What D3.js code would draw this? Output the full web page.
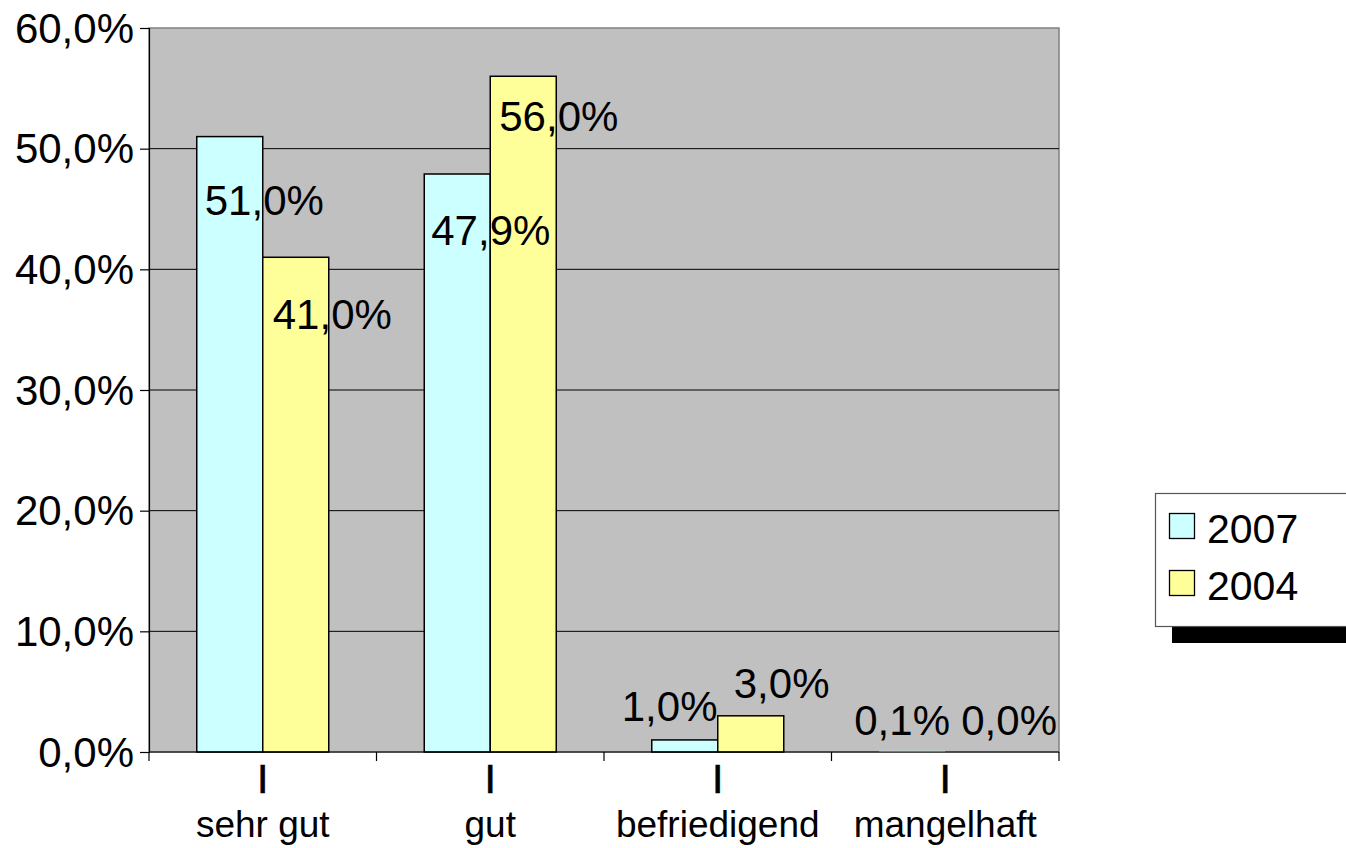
<!DOCTYPE html>
<html>
<head>
<meta charset="utf-8">
<script src="https://cdn.jsdelivr.net/npm/d3@7"></script>
<style>
  html, body { margin: 0; padding: 0; background: #ffffff; }
  svg { display: block; font-family: "Liberation Sans", Arial, sans-serif; }
</style>
</head>
<body>
<svg id="chart" width="1346" height="848"></svg>
<script>
// ---- data ----
const categories = ["sehr gut", "gut", "befriedigend", "mangelhaft"];
const seriesNames = ["2007", "2004"];
const values2007 = [51.0, 47.9, 1.0, 0.1];
const values2004 = [41.0, 56.0, 3.0, 0.0];
const valueLabels2007 = ["51,0%", "47,9%", "1,0%", "0,1%"];
const valueLabels2004 = ["41,0%", "56,0%", "3,0%", "0,0%"];
const yTicks = [0, 10, 20, 30, 40, 50, 60];
const yTickLabels = ["0,0%", "10,0%", "20,0%", "30,0%", "40,0%", "50,0%", "60,0%"];

// ---- label placement offsets (style, px, relative to bar left / bar top) ----
const labelDx2007 = [8, 7, -30, -25];
const labelDy2007 = [78, 71, -19, -16];
const labelDx2004 = [10, 9, 16, 16];
const labelDy2004 = [72, 55, -18, -17];

const colors = { "2007": "#CCFFFF", "2004": "#FFFF99" };

const plot = { left: 149, right: 1059, top: 28, bottom: 752 };
const svg = d3.select("#chart");

const x0 = d3.scaleBand().domain(categories).range([plot.left, plot.right]).padding(0);
const bw = x0.bandwidth();
const barW = 66;
const x1 = d3.scaleBand().domain(seriesNames).range([bw / 2 - barW, bw / 2 + barW]).padding(0);
const y = d3.scaleLinear().domain([0, 60]).range([plot.bottom, plot.top]);

// plot background
svg.append("rect")
  .attr("x", plot.left).attr("y", plot.top)
  .attr("width", plot.right - plot.left).attr("height", plot.bottom - plot.top)
  .attr("fill", "#C0C0C0").attr("stroke", "#808080").attr("stroke-width", 1.5);

// gridlines
svg.append("g").selectAll("line").data(yTicks.filter(t => t > 0 && t < 60)).join("line")
  .attr("x1", plot.left).attr("x2", plot.right)
  .attr("y1", d => y(d)).attr("y2", d => y(d))
  .attr("stroke", "#000").attr("stroke-width", 1);

// y axis
const yAxis = d3.axisLeft(y).tickValues(yTicks).tickSize(9).tickPadding(7)
  .tickFormat((d, i) => yTickLabels[i]);
const gy = svg.append("g").attr("transform", `translate(${plot.left},0)`).call(yAxis);
gy.select(".domain").attr("stroke", "#000").attr("stroke-width", 1.2);
gy.selectAll(".tick line").attr("stroke", "#000").attr("stroke-width", 1.2);
gy.selectAll(".tick text").attr("font-size", 42).attr("fill", "#000")
  .attr("font-family", "Liberation Sans, Arial, sans-serif")
  .attr("dy", null).attr("dominant-baseline", null).attr("y", 14).attr("x", -15);

// bars
const series = [
  { name: "2007", values: values2007, labels: valueLabels2007, dx: labelDx2007, dy: labelDy2007 },
  { name: "2004", values: values2004, labels: valueLabels2004, dx: labelDx2004, dy: labelDy2004 }
];
series.forEach(s => {
  const g = svg.append("g");
  g.selectAll("rect").data(categories).join("rect")
    .attr("x", c => x0(c) + x1(s.name))
    .attr("y", (c, i) => y(s.values[i]))
    .attr("width", x1.bandwidth())
    .attr("height", (c, i) => y(0) - y(s.values[i]))
    .attr("fill", colors[s.name])
    .attr("stroke", (c, i) => (y(0) - y(s.values[i]) < 2 ? "none" : "#000"))
    .attr("stroke-width", 1.5);
});

// x axis line and boundary ticks
svg.append("line").attr("x1", plot.left).attr("x2", plot.right)
  .attr("y1", plot.bottom).attr("y2", plot.bottom)
  .attr("stroke", "#000").attr("stroke-width", 1.2);
const boundaries = categories.map(c => x0(c)).concat([plot.right]);
svg.append("g").selectAll("line").data(boundaries).join("line")
  .attr("x1", d => d).attr("x2", d => d)
  .attr("y1", plot.bottom).attr("y2", plot.bottom + 9)
  .attr("stroke", "#000").attr("stroke-width", 1.2);

// category labels
const catG = svg.append("g").selectAll("g").data(categories).join("g")
  .attr("transform", d => `translate(${x0(d) + bw / 2},0)`);
catG.append("text").attr("y", 793).attr("text-anchor", "middle")
  .attr("font-size", 41).attr("fill", "#000").attr("stroke", "#000").attr("stroke-width", 0.6).text("I");
catG.append("text").attr("y", 837).attr("text-anchor", "middle")
  .attr("font-size", 37).attr("fill", "#000").text(d => d);

// value labels on top
series.forEach(s => {
  svg.append("g").selectAll("text").data(categories).join("text")
    .attr("x", (c, i) => x0(c) + x1(s.name) + s.dx[i])
    .attr("y", (c, i) => y(s.values[i]) + s.dy[i])
    .attr("font-size", 42).attr("fill", "#000")
    .text((c, i) => s.labels[i]);
});

// legend
const lg = svg.append("g");
lg.append("rect").attr("x", 1172).attr("y", 510).attr("width", 200).attr("height", 133).attr("fill", "#000");
lg.append("rect").attr("x", 1155.5).attr("y", 493.5).attr("width", 200).attr("height", 133)
  .attr("fill", "#fff").attr("stroke", "#555").attr("stroke-width", 1.2);
seriesNames.forEach((n, i) => {
  lg.append("rect").attr("x", 1169.5).attr("y", 513.5 + i * 57).attr("width", 25).attr("height", 25)
    .attr("fill", colors[n]).attr("stroke", "#000").attr("stroke-width", 1.3);
  lg.append("text").attr("x", 1207).attr("y", 543 + i * 57)
    .attr("font-size", 41).attr("fill", "#000").text(n);
});
</script>
</body>
</html>
